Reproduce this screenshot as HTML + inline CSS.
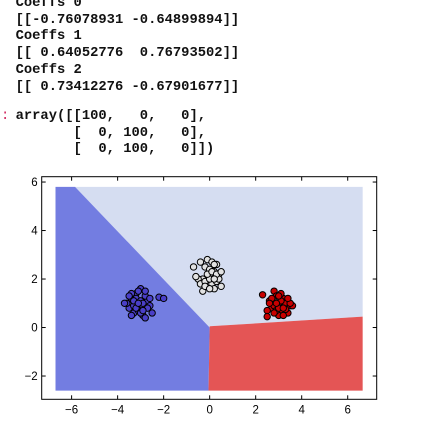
<!DOCTYPE html>
<html><head><meta charset="utf-8"><style>
body{margin:0;width:432px;height:422px;background:#fff;overflow:hidden;position:relative;font-family:"Liberation Mono",monospace}
.t{position:absolute;left:15.6px;font-size:13.8px;line-height:16.7px;white-space:pre;color:#111;font-weight:bold}
.p{position:absolute;left:1px;top:109px;color:#d0245c;font-size:13.8px}
svg{position:absolute;left:0;top:0}
</style></head><body>
<div class="t" style="top:-4px">Coeffs 0
[[-0.76078931 -0.64899894]]
Coeffs 1
[[ 0.64052776  0.76793502]]
Coeffs 2
[[ 0.73412276 -0.67901677]]</div>
<div class="p">:</div>
<div class="t" style="top:109px">array([[100,   0,   0],
       [  0, 100,   0],
       [  0, 100,   0]])</div>
<svg id="c" width="432" height="422"></svg>
<script>
const xTicks=[-6,-4,-2,0,2,4,6];
const yTicks=[-2,0,2,4,6];
const blueRegion=[[-6.7,5.8],[-5.85,5.8],[0,0],[-0.05,-2.6],[-6.7,-2.6]];
const lightRegion=[[-5.85,5.8],[6.65,5.8],[6.65,0.45],[0,0.05],[0,0]];
const redRegion=[[-0.05,-2.6],[0,0.05],[6.65,0.45],[6.65,-2.6]];
const blueX=[-3.1,-3.4,-2.9,-3.2,-2.7,-3.5,-3.0,-2.8,-3.3,-3.6,-2.6,-3.1,-2.9,-3.4,-3.2,-2.5,-3.0,-2.8,-3.7,-3.3,-2.2,-2.0,-3.1,-2.9,-3.5,-2.7,-3.2,-3.0,-2.8,-3.4,-3.3,-2.6,-3.1,-2.9];
const blueY=[1.0,1.2,0.9,1.4,1.1,0.8,1.6,1.3,0.6,1.0,0.9,0.7,0.5,1.4,1.2,0.6,1.1,0.4,1.0,0.9,1.25,1.2,1.5,1.0,1.3,0.8,0.8,0.6,1.5,0.5,1.1,1.2,1.0,0.7];
const whiteX=[0.0,-0.2,0.2,-0.3,0.1,0.3,-0.5,-0.1,0.4,0.2,-0.4,0.0,0.5,-0.2,0.1,-0.7,-0.3,0.3,0.0,-0.1,0.2,0.4,-0.6,0.1,-0.2,0.3,0.0,-0.4,0.2,0.5];
const whiteY=[2.1,2.5,2.3,2.0,1.8,2.6,2.0,2.8,2.2,1.6,1.8,2.4,1.7,1.9,2.7,2.5,1.5,1.9,2.0,2.2,2.6,2.0,2.1,2.3,1.7,2.2,1.6,2.7,2.0,2.3];
const redX=[3.0,2.8,3.2,2.7,3.1,3.3,2.9,2.6,3.5,3.0,2.5,3.4,2.8,3.1,3.6,2.9,3.2,2.7,2.3,3.0,3.3,2.6,3.5,2.8,3.1,2.5,3.4,2.9,3.2,3.0];
const redY=[1.0,1.5,1.2,0.8,0.6,1.0,1.3,1.1,0.9,0.5,0.7,0.6,0.9,1.4,0.9,0.7,0.5,1.2,1.35,0.8,0.75,1.0,1.0,0.6,1.1,0.45,1.2,1.0,0.8,1.3];
const L=41.7,R=376.7,T=176.7,B=399.3,x0=-7.3,x1=7.26,y0=-2.96,y1=6.22;
const sx=v=>L+(v-x0)/(x1-x0)*(R-L), sy=v=>B-(v-y0)/(y1-y0)*(B-T);
const svg=document.getElementById('c'),NS='http://www.w3.org/2000/svg';
function mk(t,a,p){const e=document.createElementNS(NS,t);for(const k in a)e.setAttribute(k,a[k]);(p||svg).appendChild(e);return e;}
function poly(pts,fill,name){const e=mk('polygon',{points:pts.map(p=>sx(p[0])+','+sy(p[1])).join(' '),fill:fill});

}
poly(lightRegion,'#d5ddf1','region-class-1');
poly(blueRegion,'#737de1','region-class-0');
poly(redRegion,'#e45555','region-class-2');
function pts(xs,ys,fill,name){for(let i=0;i<xs.length;i++){const c=mk('circle',{cx:sx(xs[i]),cy:sy(ys[i]),r:3.2,fill:fill,stroke:'#000','stroke-width':1});

}}
pts(blueX,blueY,'#4a3fc8','point-class-0');
pts(whiteX,whiteY,'#e2e2e2','point-class-1');
pts(redX,redY,'#c80000','point-class-2');
const fr=mk('rect',{x:L,y:T,width:R-L,height:B-T,fill:'none',stroke:'#000','stroke-width':1});


xTicks.forEach(v=>{const x=sx(v);mk('line',{x1:x,x2:x,y1:B,y2:B-4,stroke:'#000'});mk('line',{x1:x,x2:x,y1:T,y2:T+4,stroke:'#000'});
const t=mk('text',{x:x,y:B+14,'text-anchor':'middle','font-size':'11.5','font-family':'Liberation Sans, sans-serif'});t.textContent=v<0?'\u2212'+(-v):v;

});
yTicks.forEach(v=>{const y=sy(v);mk('line',{x1:L,x2:L+4,y1:y,y2:y,stroke:'#000'});mk('line',{x1:R,x2:R-4,y1:y,y2:y,stroke:'#000'});
const t=mk('text',{x:L-4,y:y+4,'text-anchor':'end','font-size':'11.5','font-family':'Liberation Sans, sans-serif'});t.textContent=v<0?'\u2212'+(-v):v;

});
</script>
</body></html>
